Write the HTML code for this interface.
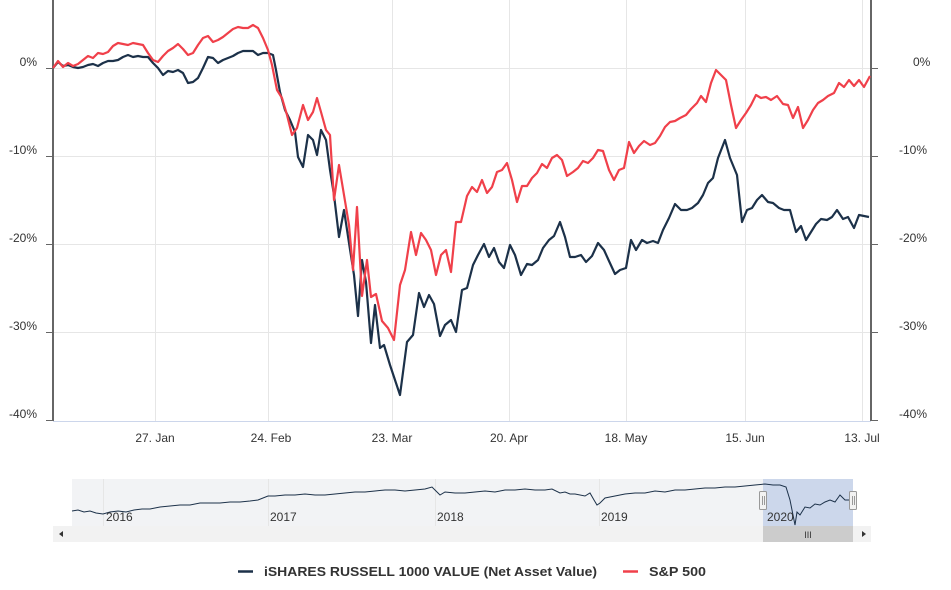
<!DOCTYPE html>
<html><head><meta charset="utf-8"><style>
body{margin:0;background:#fff;font-family:"Liberation Sans",Arial,sans-serif}
svg text{font-family:"Liberation Sans",Arial,sans-serif}
</style></head><body>
<svg width="951" height="585" xmlns="http://www.w3.org/2000/svg">
<rect width="951" height="585" fill="#fff"/>
<g stroke="#e6e6e6" stroke-width="1">
<line x1="53" x2="871" y1="68.5" y2="68.5"/><line x1="53" x2="871" y1="156.5" y2="156.5"/>
<line x1="53" x2="871" y1="244.5" y2="244.5"/><line x1="53" x2="871" y1="332.5" y2="332.5"/>
<line x1="155.5" x2="155.5" y1="0" y2="421"/><line x1="268.5" x2="268.5" y1="0" y2="421"/>
<line x1="392.5" x2="392.5" y1="0" y2="421"/><line x1="509.5" x2="509.5" y1="0" y2="421"/>
<line x1="626.5" x2="626.5" y1="0" y2="421"/><line x1="745.5" x2="745.5" y1="0" y2="421"/>
<line x1="862.5" x2="862.5" y1="0" y2="421"/>
</g>
<g stroke="#666" stroke-width="2">
<line x1="53" x2="53" y1="0" y2="421"/><line x1="871" x2="871" y1="0" y2="421"/>
</g>
<g stroke="#666" stroke-width="1">
<line x1="46" x2="53" y1="68.5" y2="68.5"/><line x1="46" x2="53" y1="156.5" y2="156.5"/><line x1="46" x2="53" y1="244.5" y2="244.5"/><line x1="46" x2="53" y1="332.5" y2="332.5"/><line x1="46" x2="53" y1="420.5" y2="420.5"/>
<line x1="871" x2="878" y1="68.5" y2="68.5"/><line x1="871" x2="878" y1="156.5" y2="156.5"/><line x1="871" x2="878" y1="244.5" y2="244.5"/><line x1="871" x2="878" y1="332.5" y2="332.5"/><line x1="871" x2="878" y1="420.5" y2="420.5"/>
<line x1="53" x2="871" y1="421.5" y2="421.5" stroke="#ccd6eb"/>
</g>
<g font-size="12" fill="#333" text-anchor="end">
<text x="37" y="66">0%</text><text x="37" y="154">-10%</text><text x="37" y="242">-20%</text><text x="37" y="330">-30%</text><text x="37" y="418">-40%</text>
</g>
<g font-size="12" fill="#333">
<text x="913" y="66">0%</text><text x="899" y="154">-10%</text><text x="899" y="242">-20%</text><text x="899" y="330">-30%</text><text x="899" y="418">-40%</text>
</g>
<g font-size="12" fill="#333" text-anchor="middle">
<text x="155" y="442">27. Jan</text><text x="271" y="442">24. Feb</text><text x="392" y="442">23. Mar</text><text x="509" y="442">20. Apr</text><text x="626" y="442">18. May</text><text x="745" y="442">15. Jun</text><text x="862" y="442">13. Jul</text>
</g>
<polyline fill="none" stroke="#1c3149" stroke-width="2.2" stroke-linejoin="round" points="53,68 58,62 63,66 68,65 73,67 78,68 83,67 88,65 93,64 98,66 103,63 108,61 113,61 118,60 123,57 128,55 133,57 138,56 143,57 148,57 153,63 158,68 163,75 168,71 173,72 178,70 183,73 188,83 193,82 198,78 203,68 208,57 213,58 218,63 223,60 228,58 233,56 238,53 243,51 248,51 253,51 258,55 263,53 268,53 273,55 276,70 280,92 285,110 290,120 295,132 298,157 303,167 308,135 313,140 317,155 321,130 326,140 330,170 334,195 339,237 344,210 349,243 354,275 358,316 362,260 366,282 371,343 375,305 380,348 384,345 390,365 395,380 400,395 407,342 413,335 419,293 424,307 429,295 434,304 440,336 445,325 451,320 456,332 462,290 467,288 473,265 478,255 484,244 489,257 494,248 499,262 504,268 510,245 515,255 521,275 527,264 532,265 538,260 543,248 549,240 554,236 560,222 565,237 570,257 575,257 581,255 586,262 592,256 598,243 604,250 609,261 615,274 620,270 626,268 631,240 636,250 642,240 647,243 653,241 658,243 663,230 669,218 675,204 681,210 687,210 692,208 698,203 703,195 708,183 713,178 718,158 725,140 730,158 737,175 742,222 747,210 752,208 757,200 762,195 768,202 773,203 779,208 784,210 790,210 796,232 801,226 806,240 811,232 816,224 821,219 827,220 832,217 837,210 843,219 848,217 854,228 859,215 864,216 869,217"/>
<polyline fill="none" stroke="#f0404a" stroke-width="2.2" stroke-linejoin="round" points="53,68 58,61 63,67 68,63 73,66 78,64 83,60 88,56 93,58 98,53 103,54 108,52 113,46 118,43 123,44 128,45 133,43 138,44 143,45 148,53 153,60 158,62 163,56 168,51 173,48 178,44 183,49 188,55 193,53 198,45 203,38 208,36 213,42 218,40 223,37 228,33 233,29 238,27 243,28 248,28 253,25 258,28 263,38 268,50 272,65 277,90 282,98 287,115 292,135 297,128 303,105 308,120 313,112 317,98 321,112 326,130 330,135 334,200 339,165 344,195 349,225 353,270 357,207 362,296 367,260 371,297 376,294 382,321 388,328 394,340 400,285 405,270 411,232 416,255 421,233 426,240 431,250 436,275 441,255 446,250 451,272 456,222 461,222 467,196 472,187 477,192 482,180 487,193 492,187 497,172 502,170 507,163 512,180 517,202 522,186 527,186 532,178 537,173 542,164 547,168 552,158 557,155 562,160 567,176 573,172 578,168 583,161 588,163 593,158 598,150 603,151 609,170 614,180 619,170 624,168 629,142 634,153 639,146 644,141 650,145 655,143 660,136 665,127 670,122 675,121 680,118 686,115 691,109 697,103 701,96 706,102 711,83 716,70 721,75 726,80 731,105 736,128 741,120 746,113 751,105 756,95 761,98 766,97 771,100 777,96 783,104 788,105 793,118 798,107 803,128 808,120 813,110 818,103 823,100 828,96 834,93 839,83 844,87 849,80 854,86 859,80 864,87 870,76"/>
<!-- navigator -->
<rect x="72" y="479" width="781" height="47" fill="#f2f3f5"/>
<g stroke="#e6e6e6"><line x1="103.5" x2="103.5" y1="479" y2="526"/><line x1="268.5" x2="268.5" y1="479" y2="526"/><line x1="435.5" x2="435.5" y1="479" y2="526"/><line x1="599.5" x2="599.5" y1="479" y2="526"/></g>
<rect x="763" y="479" width="90" height="47" fill="#c8d4ea" opacity="0.9"/>
<polyline fill="none" stroke="#1c3149" stroke-width="1" points="72,511 78,510 84,512 90,511 96,513 103,514 110,512 118,511 126,512 134,510 142,509 150,509 160,507 170,506 180,505 190,505 200,503 210,503 220,503 230,502 240,502 250,501 258,500 268,496 275,496 285,495 295,495 305,494 315,495 325,495 335,494 345,493 355,492 365,492 375,491 385,490 395,490 405,491 415,490 425,489 432,487 436,491 440,495 445,492 455,493 465,493 475,492 485,491 495,492 505,490 515,490 525,489 535,490 545,490 552,489 560,493 565,492 570,494 575,494 585,496 590,493 594,500 597,505 600,503 605,498 615,496 625,494 635,493 645,493 655,491 665,492 675,490 685,490 695,489 705,488 715,488 725,487 735,487 745,486 755,485 765,484 773,485 780,485 786,487 790,500 793,515 795,525 797,512 800,515 805,507 810,508 815,504 820,505 825,502 830,500 835,502 840,495 845,500 851,500"/>
<g fill="#f2f2f2" stroke="#999"><rect x="759.5" y="491.5" width="7" height="18" rx="1"/><rect x="849.5" y="491.5" width="7" height="18" rx="1"/></g>
<g stroke="#999"><line x1="762.5" x2="762.5" y1="496" y2="505"/><line x1="764.5" x2="764.5" y1="496" y2="505"/><line x1="852.5" x2="852.5" y1="496" y2="505"/><line x1="854.5" x2="854.5" y1="496" y2="505"/></g>
<g font-size="12" fill="#333"><text x="106" y="521">2016</text><text x="270" y="521">2017</text><text x="437" y="521">2018</text><text x="601" y="521">2019</text><text x="767" y="521">2020</text></g>
<rect x="53" y="526" width="818" height="16" fill="#f2f2f2"/>
<rect x="763" y="526" width="90" height="16" fill="#cccccc"/>
<text x="808" y="538" font-size="9" fill="#333" text-anchor="middle">III</text>
<path d="M63,531 L59,534 L63,537Z" fill="#333"/><path d="M862,531 L866,534 L862,537Z" fill="#333"/>
<!-- legend -->
<line x1="238" x2="253" y1="571.5" y2="571.5" stroke="#1c3149" stroke-width="2.5"/>
<text x="264" y="576" font-size="13" font-weight="bold" fill="#333" textLength="333" lengthAdjust="spacingAndGlyphs">iSHARES RUSSELL 1000 VALUE (Net Asset Value)</text>
<line x1="623" x2="638" y1="571.5" y2="571.5" stroke="#f0404a" stroke-width="2.5"/>
<text x="649" y="576" font-size="13" font-weight="bold" fill="#333" textLength="57" lengthAdjust="spacingAndGlyphs">S&amp;P 500</text>
</svg>
</body></html>
